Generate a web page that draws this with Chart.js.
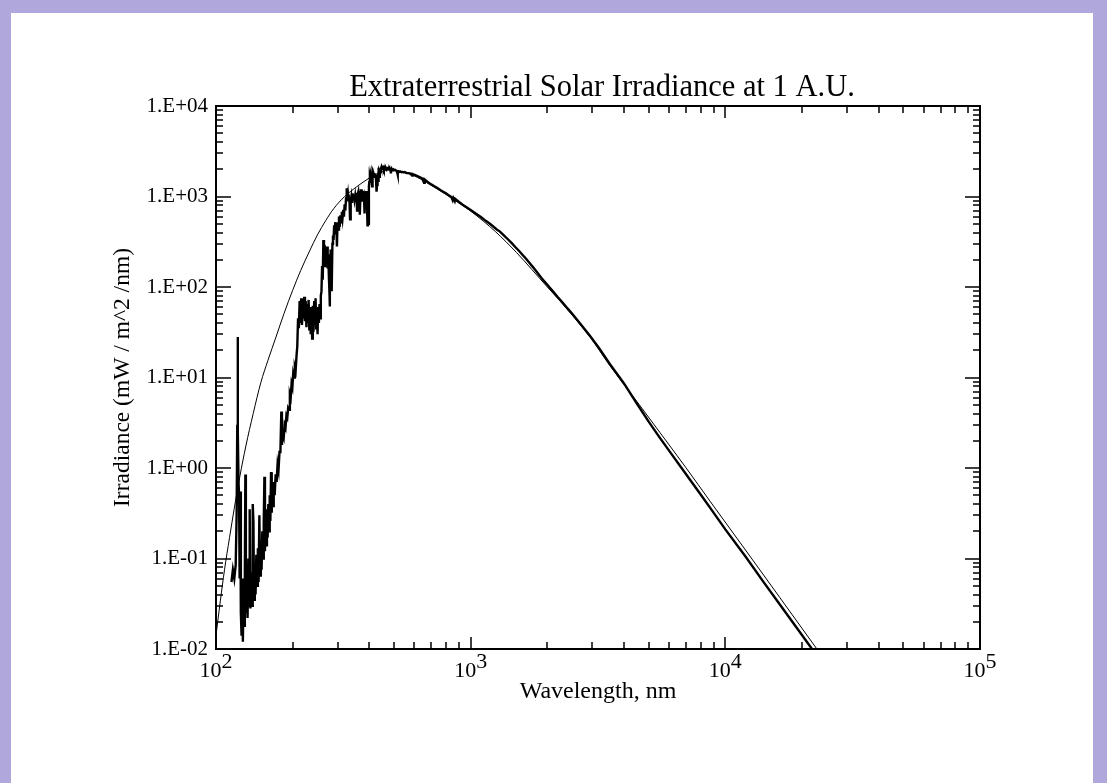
<!DOCTYPE html>
<html lang="en">
<head>
<meta charset="UTF-8">
<title>Extraterrestrial Solar Irradiance at 1 A.U.</title>
<script src="https://cdn.jsdelivr.net/npm/chart.js"></script>
<style>
  html, body { margin: 0; padding: 0; }
  body { width: 1107px; height: 783px; background: #b0a8dc; position: relative; overflow: hidden; }
  #sheet { position: absolute; left: 11px; top: 13px; width: 1082px; height: 770px; background: #fff; }
  #irradianceChart { position: absolute; left: 96px; top: 0; }
</style>
</head>
<body>
<div id="sheet"></div>
<canvas id="irradianceChart" width="1012" height="783"></canvas>

<script>
// blackbody reference curve (nm, mW/m^2/nm)
const bbWavelength = [100, 104, 108, 113, 118, 124, 131, 140, 150, 160, 172, 185, 200, 215, 234, 250, 270, 290, 320, 357,
  400, 441, 482, 530, 593, 700, 851, 1000, 1250, 1514, 2000, 2244, 2939, 3524, 4500, 5534, 7000, 8706, 12000, 16370, 24000];
const bbIrradiance = [0.0141, 0.034, 0.075, 0.17, 0.36, 0.8, 1.75, 4.0, 8.8, 15.5, 28, 51, 92, 152, 256, 375, 545, 736, 1000, 1283,
  1600, 1850, 1960, 1900, 1720, 1330, 940, 690, 410, 240, 100, 70, 28, 13.5, 5.4, 2.47, 1.01, 0.43, 0.124, 0.037, 0.0083];

// measured solar spectrum (nm, mW/m^2/nm)
const solarWavelength = [
  115, 116.5, 118, 119.5, 120.5, 121.2, 121.6, 122.0, 122.6, 123.2,
  123.8, 124.5, 125.2, 126.0, 126.8, 127.5, 128.3, 129.0, 129.8, 130.4,
  131.0, 132.0, 133.0, 134.0, 135.0, 135.6, 136.5, 137.5, 138.5, 139.4,
  140.3, 141.0, 142.0, 143.0, 144.0, 145.0, 146.0, 147.0, 148.0, 149.0,
  150.0, 151.0, 152.0, 153.0, 154.0, 154.9, 155.7, 156.5, 157.5, 158.5,
  159.5, 160.5, 161.5, 162.5, 163.5, 164.5, 165.5, 166.5, 167.5, 168.5,
  170, 171.5, 173, 174.5, 176, 177.5, 179, 180.5, 181.5, 183,
  184.5, 186, 187.5, 189, 190.5, 192, 193.5, 195, 196.5, 198,
  199.5, 201, 202.5, 204, 205.5, 207, 208.5, 210, 211.5, 213,
  214.5, 216, 217.5, 219, 220.5, 222, 223.5, 225, 226.5, 228,
  229.5, 231, 232.5, 234, 235.5, 237, 238.5, 240, 241.5, 243,
  244.5, 246, 247.5, 249, 250.5, 252, 253.5, 255, 256.5, 258,
  259.5, 261, 262.5, 264, 265.5, 267, 268.5, 270, 271.5, 273,
  274.5, 276, 277.5, 279, 279.6, 280.3, 281, 282, 283, 284,
  285.2, 286.5, 288, 289.5, 291, 292.5, 294, 295.5, 297, 298.5,
  300, 302, 304, 306, 308, 310, 312, 314, 316, 318,
  320, 322, 324, 326, 328, 330, 332, 334, 336, 338,
  340, 342, 344, 346, 348, 350, 352, 354, 356, 358,
  360, 362, 364, 366, 367, 369, 371, 373, 375, 377,
  379, 381, 383, 385, 387, 389, 391, 393.4, 395, 396.8,
  398.5, 400, 402, 404, 406, 408, 410, 412, 414, 416,
  418, 420, 422, 424, 427, 429, 431, 433, 434, 436,
  438, 440, 442, 444, 447, 450, 453, 456, 459, 462,
  465, 468, 471, 475, 478, 481, 484, 486, 488, 491,
  494, 497, 500, 505, 510, 514, 517, 520, 525, 530,
  535, 540, 545, 550, 560, 570, 580, 589, 592, 600,
  615, 630, 645, 656, 660, 680, 700, 720, 740, 760,
  780, 800, 820, 840, 850, 855, 866, 870, 900, 930,
  960, 1000, 1050, 1100, 1150, 1200, 1270, 1300, 1350, 1400,
  1450, 1500, 1550, 1600, 1650, 1700, 1750, 1800, 1900, 2000,
  2100, 2200, 2300, 2400, 2500, 2700, 2939, 3200, 3524, 4000,
  4500, 5000, 5534, 6200, 7000, 8000, 8706, 10000, 12000, 14000,
  16370, 19000, 24000
];
const solarIrradiance = [
  0.055, 0.075, 0.06, 0.085, 0.3, 3, 28, 2.5, 0.7, 0.5,
  0.06, 0.55, 0.025, 0.014, 0.06, 0.012, 0.045, 0.018, 0.07, 0.85,
  0.025, 0.06, 0.022, 0.1, 0.03, 0.35, 0.028, 0.07, 0.03, 0.4,
  0.25, 0.035, 0.08, 0.04, 0.11, 0.05, 0.13, 0.055, 0.3, 0.065,
  0.15, 0.075, 0.2, 0.1, 0.25, 0.8, 0.12, 0.3, 0.14, 0.35,
  0.17, 0.4, 0.2, 0.5, 0.26, 0.9, 0.32, 0.55, 0.38, 0.7,
  0.5, 0.85, 0.7, 1.1, 0.95, 1.5, 1.5, 4.2, 1.8, 2.4,
  2.2, 3.0, 2.8, 3.8, 3.6, 4.6, 4.4, 6.5, 6.0, 8.5,
  7.8, 11, 10, 13, 12, 17, 22, 45, 35, 70,
  40, 75, 38, 68, 45, 78, 42, 70, 36, 65,
  40, 72, 33, 60, 30, 58, 27, 62, 32, 70,
  38, 75, 35, 55, 30, 60, 40, 65, 45, 80,
  90, 170, 120, 330, 190, 290, 170, 250, 200, 280,
  160, 230, 130, 85, 61, 90, 150, 260, 200, 230,
  90, 300, 370, 330, 480, 420, 520, 380, 470, 280,
  520, 430, 600, 460, 620, 520, 680, 580, 710, 600,
  820, 700, 950, 1230, 900, 1050, 880, 980, 560, 900,
  1000, 850, 1080, 950, 1050, 920, 1020, 880, 1100, 700,
  1050, 1120, 900, 1150, 630, 1000, 1200, 950, 900, 1150,
  1050, 1100, 650, 1000, 950, 1150, 1000, 480, 1100, 500,
  1300, 1450, 1650, 1550, 1700, 1600, 1300, 1750, 1650, 1780,
  1700, 1800, 1650, 1750, 1130, 1350, 1550, 1700, 1450, 1750,
  1650, 1900, 1850, 2000, 2140, 2050, 2100, 1980, 2080, 2020,
  2060, 1990, 2050, 2080, 2010, 2040, 1980, 1800, 1990, 2010,
  1960, 1990, 1950, 1970, 1930, 1880, 1750, 1900, 1880, 1890,
  1860, 1870, 1850, 1860, 1820, 1810, 1790, 1700, 1770, 1740,
  1690, 1640, 1590, 1420, 1540, 1440, 1360, 1300, 1240, 1180,
  1130, 1085, 1030, 985, 910, 960, 890, 940, 870, 810,
  765, 710, 645, 590, 535, 490, 430, 412, 372, 337,
  305, 275, 250, 226, 205, 185, 168, 152, 125, 106,
  90, 77, 67, 58, 51, 39, 29, 21, 14, 8.6,
  5.1, 3.25, 2.15, 1.38, 0.86, 0.51, 0.365, 0.21, 0.105, 0.057,
  0.031, 0.0174, 0.007
];

const xTickValues = [1e2, 1e3, 1e4, 1e5];
const xTickBase = '10';
const xTickExponents = ['2', '3', '4', '5'];
const yTickValues = [1e-2, 1e-1, 1, 10, 100, 1000, 10000];
const yTickLabels = ['1.E-02', '1.E-01', '1.E+00', '1.E+01', '1.E+02', '1.E+03', '1.E+04'];

const FONT = "'Liberation Serif', 'DejaVu Serif', serif";

// IDL-style box: inward major/minor ticks on all four sides, 10^n labels below
const frameTicks = {
  id: 'frameTicks',
  afterDatasetsDraw(chart) {
    const { ctx, chartArea: a, scales: { x, y } } = chart;
    ctx.save();
    ctx.strokeStyle = '#000';
    ctx.lineWidth = 2;
    ctx.strokeRect(a.left, a.top, a.right - a.left, a.bottom - a.top);
    ctx.lineWidth = 1.5;
    ctx.beginPath();
    for (let k = 2; k < 5; k++) {
      for (let m = 1; m < 10; m++) {
        const px = Math.round(x.getPixelForValue(m * Math.pow(10, k)));
        const len = m === 1 ? 12 : 7;
        ctx.moveTo(px, a.bottom); ctx.lineTo(px, a.bottom - len);
        ctx.moveTo(px, a.top); ctx.lineTo(px, a.top + len);
      }
    }
    for (let k = -2; k < 4; k++) {
      for (let m = 1; m < 10; m++) {
        const py = Math.round(y.getPixelForValue(m * Math.pow(10, k)));
        const len = m === 1 ? 15 : 7;
        ctx.moveTo(a.left, py); ctx.lineTo(a.left + len, py);
        ctx.moveTo(a.right, py); ctx.lineTo(a.right - len, py);
      }
    }
    ctx.stroke();

    // x tick labels with raised exponents
    ctx.fillStyle = '#000';
    ctx.font = '22px ' + FONT;
    ctx.textBaseline = 'alphabetic';
    ctx.textAlign = 'left';
    xTickValues.forEach((v, i) => {
      const px = x.getPixelForValue(v);
      const wb = ctx.measureText(xTickBase).width;
      const we = ctx.measureText(xTickExponents[i]).width;
      const x0 = px - (wb + we) / 2;
      ctx.fillText(xTickBase, x0, a.bottom + 28);
      ctx.fillText(xTickExponents[i], x0 + wb, a.bottom + 19);
    });
    ctx.restore();
  }
};

function toPoints(xs, ys) {
  return xs.map((v, i) => ({ x: v, y: ys[i] }));
}

const ctx = document.getElementById('irradianceChart').getContext('2d');
new Chart(ctx, {
  type: 'line',
  data: {
    datasets: [
      {
        label: 'Solar spectrum',
        data: toPoints(solarWavelength, solarIrradiance),
        borderColor: '#000',
        borderWidth: 2.4,
        pointRadius: 0,
        tension: 0
      },
      {
        label: 'Blackbody',
        data: toPoints(bbWavelength, bbIrradiance),
        borderColor: '#000',
        borderWidth: 1,
        pointRadius: 0,
        cubicInterpolationMode: 'monotone'
      }
    ]
  },
  plugins: [frameTicks],
  options: {
    responsive: false,
    animation: false,
    layout: { padding: { top: 58, right: 0, bottom: 74, left: 0 } },
    plugins: {
      legend: { display: false },
      tooltip: { enabled: false },
      title: {
        display: true,
        text: 'Extraterrestrial Solar Irradiance at 1 A.U.',
        color: '#000',
        font: { family: FONT, size: 30.5, weight: 'normal', lineHeight: 1.1 },
        padding: { top: 13, bottom: 1.45 }
      }
    },
    scales: {
      x: {
        type: 'logarithmic',
        min: 100,
        max: 100000,
        afterBuildTicks: s => { s.ticks = xTickValues.map(v => ({ value: v })); },
        afterFit: s => { s.height = 60; },
        grid: { display: false, drawTicks: false },
        border: { display: false },
        ticks: { display: false },
        title: {
          display: true,
          text: 'Wavelength, nm',
          color: '#000',
          font: { family: FONT, size: 24 },
          padding: { top: 0, bottom: 2.6 }
        }
      },
      y: {
        type: 'logarithmic',
        min: 0.01,
        max: 10000,
        afterBuildTicks: s => { s.ticks = yTickValues.map(v => ({ value: v })); },
        afterFit: s => { s.width = 120; },
        grid: { display: false, drawTicks: false },
        border: { display: false },
        ticks: {
          color: '#000',
          font: { family: FONT, size: 21 },
          padding: 8,
          autoSkip: false,
          callback: (v, i) => yTickLabels[i]
        },
        title: {
          display: true,
          text: 'Irradiance (mW / m^2 /nm)',
          color: '#000',
          font: { family: FONT, size: 23.5 },
          padding: { top: 13, bottom: 0 }
        }
      },
      // empty right-hand axis: keeps the title centred over the plot box
      yRight: {
        type: 'linear',
        position: 'right',
        afterFit: s => { s.width = 128; },
        grid: { display: false, drawTicks: false },
        border: { display: false },
        ticks: { display: false }
      }
    }
  }
});
</script>
</body>
</html>
